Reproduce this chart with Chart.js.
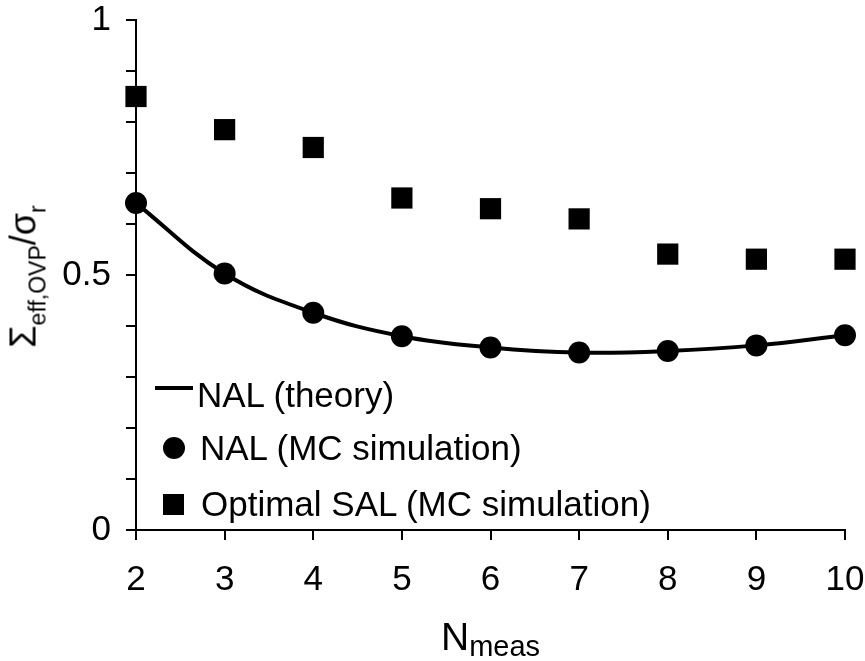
<!DOCTYPE html>
<html>
<head>
<meta charset="utf-8">
<script src="https://cdn.jsdelivr.net/npm/chart.js@4/dist/chart.umd.min.js"></script>
<style>
    html, body { margin: 0; padding: 0; background: #fff; }
    #wrap { position: relative; width: 865px; height: 661px; font-family: 'Liberation Sans', Arial, sans-serif; color: #000; }
    #chart { position: absolute; left: 0; top: 0; }
    .txt { position: absolute; white-space: nowrap; font-size: 35px; line-height: 35px; }
    .mark { position: absolute; background: #000; }
    #ytitle { position: absolute; left: -127px; top: 254px; width: 300px; height: 45px; line-height: 45px;
              font-size: 36px; text-align: center; white-space: nowrap; transform: rotate(-90deg); }
    #xtitle { position: absolute; left: 136px; top: 617px; width: 709px; line-height: 39px;
              font-size: 39px; text-align: center; white-space: nowrap; }
    .sub { position: relative; }
</style>
</head>
<body>
<div id="wrap">
    <canvas id="chart" width="865" height="661"></canvas>

    <!-- 图例 -->
    <div class="mark" style="left:155px; top:386px; width:38px; height:4px;"></div>
    <div class="txt" style="left:197px; top:377px;">NAL (theory)</div>
    <div class="mark" style="left:163px; top:437px; width:22px; height:22px; border-radius:50%;"></div>
    <div class="txt" style="left:200px; top:430px;">NAL (MC simulation)</div>
    <div class="mark" style="left:163px; top:494px; width:21px; height:21px;"></div>
    <div class="txt" style="left:201px; top:486px;">Optimal SAL (MC simulation)</div>

    <!-- 坐标轴标题 -->
    <div id="ytitle">Σ<span class="sub" style="font-size:23px; top:10px;">eff,OVP</span>/σ<span class="sub" style="font-size:23px; top:10px;">r</span></div>
    <div id="xtitle">N<span class="sub" style="font-size:29px; top:6px;">meas</span></div>
</div>

<script>
// 测量次数
const nMeas = [2, 3, 4, 5, 6, 7, 8, 9, 10];
// NAL 理论曲线
const nalTheory = [0.641, 0.503, 0.426, 0.380, 0.358, 0.348, 0.351, 0.362, 0.382];
// NAL 蒙特卡洛模拟
const nalSim = [0.641, 0.503, 0.426, 0.380, 0.358, 0.348, 0.351, 0.362, 0.382];
// 最优 SAL 蒙特卡洛模拟
const salSim = [0.850, 0.785, 0.750, 0.651, 0.630, 0.610, 0.541, 0.531, 0.531];
// y 轴刻度标签
const yTickLabels = { 0: '0', 0.5: '0.5', 1: '1' };

const toPoints = (ys) => nMeas.map((x, i) => ({ x: x, y: ys[i] }));

const tickFont = { family: "'Liberation Sans', Arial, sans-serif", size: 35 };

const ctx = document.getElementById('chart').getContext('2d');
new Chart(ctx, {
    type: 'line',
    data: {
        datasets: [
            {
                label: 'NAL (theory)',
                data: toPoints(nalTheory),
                borderColor: '#000',
                borderWidth: 4,
                pointRadius: 0,
                tension: 0.4,
                fill: false,
                clip: false
            },
            {
                label: 'NAL (MC simulation)',
                data: toPoints(nalSim),
                showLine: false,
                pointStyle: 'circle',
                pointRadius: 11,
                pointBackgroundColor: '#000',
                pointBorderWidth: 0,
                clip: false
            },
            {
                label: 'Optimal SAL (MC simulation)',
                data: toPoints(salSim),
                showLine: false,
                pointStyle: 'rect',
                pointRadius: 15,
                pointBackgroundColor: '#000',
                pointBorderWidth: 0,
                clip: false
            }
        ]
    },
    options: {
        responsive: false,
        animation: false,
        devicePixelRatio: 1,
        layout: { padding: { top: 20, right: 20, left: 0, bottom: 0 } },
        plugins: {
            legend: { display: false },
            tooltip: { enabled: false }
        },
        scales: {
            x: {
                type: 'linear',
                min: 2,
                max: 10,
                afterFit: (s) => {
                    s.height = 131;
                    s.paddingLeft = 0;
                    s.paddingRight = 0;
                },
                ticks: {
                    stepSize: 1,
                    color: '#000',
                    font: tickFont,
                    padding: 19,
                    maxRotation: 0
                },
                grid: { drawOnChartArea: false, drawTicks: true, tickLength: 10, color: '#000', lineWidth: 2 },
                border: { color: '#000', width: 2 }
            },
            y: {
                min: 0,
                max: 1,
                afterFit: (s) => {
                    s.width = 136;
                    s.paddingTop = 0;
                    s.paddingBottom = 0;
                },
                ticks: {
                    stepSize: 0.1,
                    autoSkip: false,
                    color: '#000',
                    font: tickFont,
                    padding: 15,
                    callback: function(value) {
                        const key = Math.round(value * 10) / 10;
                        return yTickLabels[key] !== undefined ? yTickLabels[key] : '';
                    }
                },
                grid: { drawOnChartArea: false, drawTicks: true, tickLength: 10, color: '#000', lineWidth: 2 },
                border: { color: '#000', width: 2 }
            }
        }
    }
});
</script>
</body>
</html>
